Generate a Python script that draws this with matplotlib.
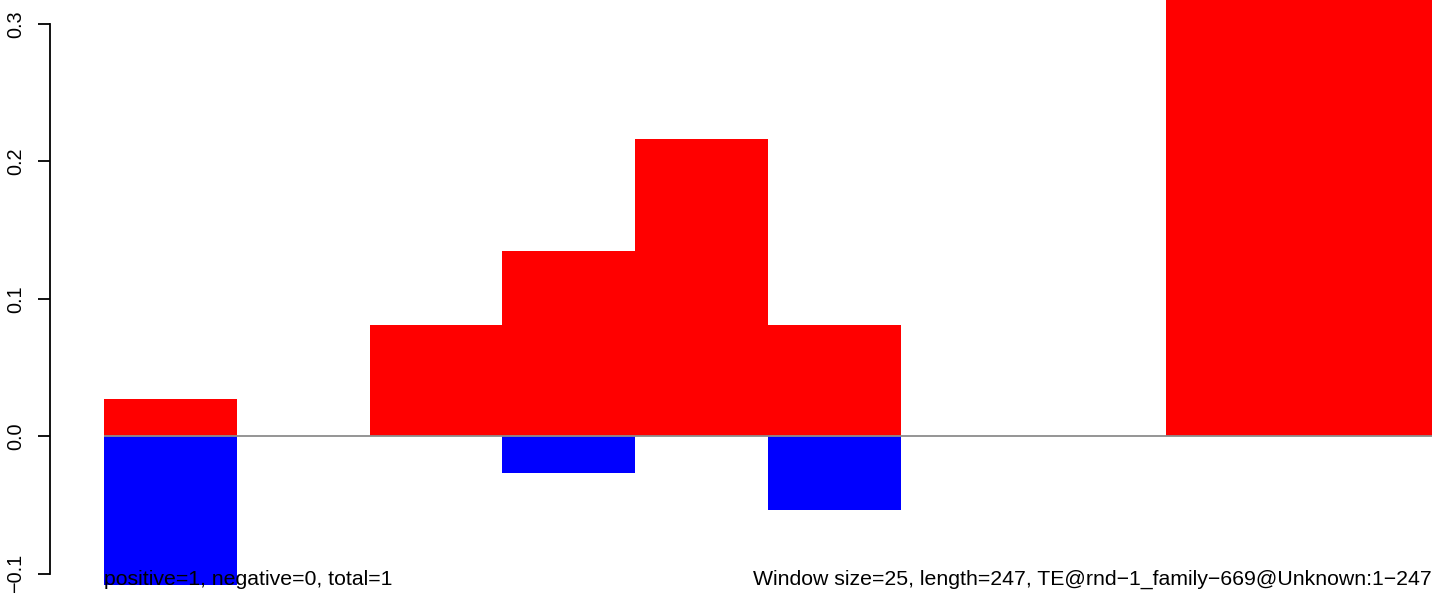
import numpy as np
import matplotlib.pyplot as plt

plt.rcParams['font.family'] = ['Liberation Sans', 'DejaVu Sans']

# window index and per-window scores
windows = np.arange(10)
pos_vals = [0.027, 0.0, 0.081, 0.135, 0.216, 0.081, 0.0, 0.0, 0.35, 0.35]
neg_vals = [-0.108, 0.0, 0.0, -0.027, 0.0, -0.054, 0.0, 0.0, 0.0, 0.0]
yticks = [-0.1, 0.0, 0.1, 0.2, 0.3]
left_note = "positive=1, negative=0, total=1"
right_note = "Window size=25, length=247, TE@rnd\u22121_family\u2212669@Unknown:1\u2212247"

W, H = 1444, 597
fig = plt.figure(figsize=(W / 100, H / 100), dpi=100)
# axes area spans the bars exactly (pixel 104..1432, full height)
ax = fig.add_axes([104 / W, 0, (1432 - 104) / W, 1])

ax.bar(windows, pos_vals, width=1.0, align='edge', color='#FF0000', linewidth=0)
ax.bar(windows, neg_vals, width=1.0, align='edge', color='#0000FF', linewidth=0)
ax.axhline(0, color='#8c8c8c', linewidth=1.3)

ax.set_xlim(0, 10)
ax.set_ylim(-0.117, 0.3175)

for s in ['top', 'right', 'bottom']:
    ax.spines[s].set_visible(False)
ax.spines['left'].set_position(('outward', 54 * 72 / 100))
ax.spines['left'].set_bounds(-0.1, 0.3)
ax.spines['left'].set_linewidth(1.3)
ax.set_xticks([])
ax.set_yticks(yticks)
ax.set_yticklabels(['\u22120.1', '0.0', '0.1', '0.2', '0.3'], rotation=90, va='center', fontsize=14.3)
ax.tick_params(axis='y', direction='out', length=12 * 0.72, width=1.3, pad=9)

fig.text(104 / W, 1 - 585 / H, left_note, ha='left', va='baseline', fontsize=15.3)
fig.text(1432 / W, 1 - 585 / H, right_note, ha='right', va='baseline', fontsize=15.3)

fig.savefig('out.png', dpi=100, facecolor='white')
